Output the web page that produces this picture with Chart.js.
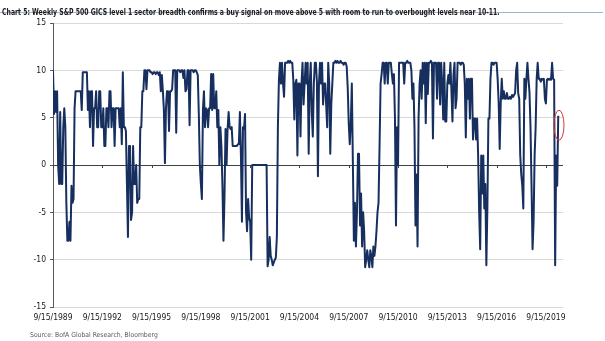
<!DOCTYPE html>
<html>
<head>
<meta charset="utf-8">
<script src="https://cdn.jsdelivr.net/npm/chart.js@4.4.1/dist/chart.umd.min.js"></script>
<style>
  html, body { margin: 0; padding: 0; background: #fff; }
  #wrap { position: relative; width: 605px; height: 341px; overflow: hidden; }
  #chart { position: absolute; left: 0; top: 0; }
  #title {
    position: absolute; left: 0; top: 1px; width: 603px; height: 11px;
    border-bottom: 1px solid #9fb4cc;
  }
  #title span {
    display: inline-block; margin-left: 2px;
    font: bold 8.2px 'Liberation Sans Narrow', 'DejaVu Sans Condensed', 'Liberation Sans', sans-serif;
    color: #1a1a1a; white-space: nowrap;
    transform: scaleX(0.835); transform-origin: 0 0;
  }
  #source {
    position: absolute; left: 30px; top: 331px;
    font: 6.8px 'Liberation Sans Narrow', 'DejaVu Sans Condensed', 'Liberation Sans', sans-serif;
    color: #595959; white-space: nowrap;
  }
</style>
</head>
<body>
<div id="wrap">
  <canvas id="chart" width="605" height="341"></canvas>
  <div id="title"><span>Chart 5: Weekly S&amp;P 500 GICS level 1 sector breadth confirms a buy signal on move above 5 with room to run to overbought levels near 10-11.</span></div>
  <div id="source">Source: BofA Global Research, Bloomberg</div>
</div>
<script>
// Sector breadth readings, one every 1/16 year from 9/15/1989
const startYear = 1989 + 257 / 365;
const step = 1 / 16;

const breadth1989 = [
  10, 5.4, 7.8, 5.6, 7.8, 0, -2, 5.6, -2, -2,
  4, 6, 4, -4, -8, -8, -6, -8, -2.2, -4,
  -3.6, 6, 7.8, 7.8, 7.8, 7.8, 7.8, 7.8, 5.8, 9.8,
  9.8, 9.8, 9.8, 9.8, 5.8, 7.8, 4, 7.8, 7.8, 2,
  6, 6, 7.8, 4, 4, 7.8, 7.8, 4];
const breadth1992 = [
  4, 6, 2, 2, 6, 6, 4, 7.8, 7.8, 4,
  6, 6, 2, 6, 6, 6, 6, 4, 6, 2.2,
  9.8, 4, 4, 3.6, -2, -7.6, 2, 2, -5.8, -5,
  2, -2, -2, 0, -4, -3.6, -3.6, 4, 4, 7.8,
  7.8, 10, 10, 8, 10, 10, 10, 9.8];
const breadth1995 = [
  9.8, 9.6, 9.8, 9.8, 9.6, 9.8, 9.8, 9.5, 9.8, 7.8,
  9.5, 7.8, 5.8, 0.2, 6, 7.8, 7.8, 3.6, 7.8, 7.8,
  8, 10, 10, 10, 3.4, 10, 10, 10, 9.8, 10,
  10, 9.2, 10, 7.8, 8, 10, 10, 4.2, 10, 10,
  10, 9.8, 10, 10, 9.8, 9.5, 5.4, 0];
const breadth1998 = [
  -2, -3.6, 5.8, 7.8, 4, 6, 5.8, 4, 6, 6,
  9.6, 5.8, 9.6, 6, 6, 7.8, 4, 5.8, 0, 4,
  2, -2.2, -8, -3.4, 3.8, 0, 3.8, 5.6, 4, 3.8,
  4, 2, 2, 2, 2, 2, 2.2, 2.2, 5.6, 1,
  -6, 4, 3.8, 5.4, -5, -7, -3.6, -5.6];
const breadth2001 = [
  -6, -10, 0, 0, 0, 0, 0, 0, 0, 0,
  0, 0, 0, 0, 0, 0, 0, -10.7, -10, -7.6,
  -9.6, -10, -10.6, -10.3, -10, -9.8, -7.6, 4, 9, 10.8,
  8.6, 10.8, 8.6, 7.2, 10.8, 10.8, 10.8, 11, 10.8, 11,
  10.8, 10.8, 9, 4.8, 8.6, 9, 1, 8.6];
const breadth2004 = [
  8.6, 3, 8.6, 10.8, 6.4, 8.6, 10.8, 8.6, 10.8, 1.2,
  8.6, 10.8, 5.6, 3, 8.6, 10.8, 10.8, 8.8, -1.2, 8.6,
  10.8, 8.6, 10.8, 6.4, 8.6, 8.6, 6.4, 4, 10.8, 8.6,
  1.2, 6.4, 8.6, 10.8, 10.8, 11, 10.8, 11, 10.8, 10.8,
  11, 10.8, 10.8, 10.6, 10.8, 10.8, 10.4, 8.2];
const breadth2007 = [
  4.4, 2.2, 4.4, 8.6, 0.4, -8, -4, -8.6, -5, 1.2,
  1.2, -6.4, -3, -8.6, -5, -7, -10.8, -10, -9, -10,
  -10.8, -9, -9.6, -10.8, -8.6, -9.6, -8.6, -7, -5, -4,
  2, 8.6, 9.6, 10.8, 10.8, 8.6, 10.8, 10.8, 8.6, 10.8,
  10.8, 10.8, 9.6, 8.6, 9.6, 5, -6.4, 4];
const breadth2010 = [
  0, 10.8, 10.8, 10.8, 10.8, 10.8, 8.6, 10.8, 10.8, 11,
  10.8, 10.8, 10.8, 10, 7, 8.6, 4, -6.4, -1, -8.6,
  5, 8.6, 10, 7, 10.8, 8.6, 10.8, 4.4, 10.8, 7.5,
  10.8, 10.8, 11, 10.8, 2.8, 10.8, 10.8, 10.8, 7, 10.8,
  10.8, 6.4, 10.8, 8.6, 4.8, 10.8, 4.6, 4.6];
const breadth2013 = [
  8.6, 9.5, 8.6, 10.8, 7.8, 4.6, 9.5, 10.8, 6, 7,
  10.8, 10.8, 10.8, 10.6, 10.8, 10.8, 10.6, 8.6, 2.9, 9.1,
  7, 9.1, 4.9, 9.1, 9.1, 2.7, 4.9, 4.9, 2.7, 4.9,
  1, -5, -8.9, 1, -3, 1, -4.6, -2, -10.6, -4.6,
  4.9, 4.9, 9.1, 10.8, 10.8, 10.6, 10.8, 10.8];
const breadth2016 = [
  10.8, 9.1, 6.6, 1.7, 6.6, 9.1, 7, 7.8, 7, 7,
  7.6, 7, 7, 7.2, 7, 7.4, 7.2, 7.4, 7.6, 10,
  10.8, 7.6, 7, 1, -1, -2.2, -4.6, 9.1, 7, 9.1,
  10.8, 9.1, 7.7, 4, -2.2, -8.9, -6, 1, 4, 9.1,
  10.8, 9.1, 9.1, 8.8, 9.1, 9, 9.1, 7];
const breadth2019 = [6.5, 9, 9.1, 9, 9.1, 9, 10.8, 9.1, 9, -10.6, 1, -2.2, 5.2];

const tickYears = [1989, 1992, 1995, 1998, 2001, 2004, 2007, 2010, 2013, 2016, 2019];
const yTicks = [15, 10, 5, 0, -5, -10, -15];

// latest reading circled on the chart
const circledReading = { x: 2020.5, y: 4.2 };

const LABEL_FONT = "'Liberation Sans Narrow', 'DejaVu Sans Condensed', 'Liberation Sans', sans-serif";

const series = [].concat(breadth1989, breadth1992, breadth1995, breadth1998, breadth2001,
  breadth2004, breadth2007, breadth2010, breadth2013, breadth2016, breadth2019);
const points = series.map((v, i) => ({ x: startYear + i * step, y: v }));

// little tick marks hanging under the zero line at each date label
const zeroLineTicks = {
  id: 'zeroLineTicks',
  beforeDatasetsDraw(chart) {
    const { ctx, scales: { x, y } } = chart;
    const y0 = Math.round(y.getPixelForValue(0));
    ctx.save();
    ctx.strokeStyle = '#404040';
    ctx.lineWidth = 1;
    ctx.beginPath();
    x.ticks.forEach(t => {
      const px = Math.round(x.getPixelForValue(t.value)) + 0.5;
      ctx.moveTo(px, y0);
      ctx.lineTo(px, y0 + 3);
    });
    ctx.stroke();
    ctx.restore();
  }
};

// red ring around the latest reading
const circleMark = {
  id: 'circleMark',
  afterDatasetsDraw(chart) {
    const { ctx, scales: { x, y } } = chart;
    ctx.save();
    ctx.strokeStyle = '#d9363a';
    ctx.lineWidth = 1;
    ctx.beginPath();
    ctx.ellipse(x.getPixelForValue(circledReading.x), y.getPixelForValue(circledReading.y), 5, 15, 0, 0, Math.PI * 2);
    ctx.stroke();
    ctx.restore();
  }
};

new Chart(document.getElementById('chart'), {
  type: 'line',
  data: {
    datasets: [{
      data: points,
      borderColor: '#172f5f',
      borderWidth: 2,
      borderJoinStyle: 'round',
      pointRadius: 0,
      tension: 0,
      fill: false
    }]
  },
  options: {
    responsive: false,
    animation: false,
    devicePixelRatio: 1,
    layout: { padding: { top: 23, right: 42, bottom: 0, left: 0 } },
    plugins: { legend: { display: false }, tooltip: { enabled: false } },
    scales: {
      x: {
        type: 'linear',
        min: startYear,
        max: startYear + 31.04,
        afterBuildTicks: s => { s.ticks = tickYears.map(yr => ({ value: startYear + (yr - 1989) })); },
        afterFit: s => { s.height = 34; },
        ticks: {
          callback: v => '9/15/' + Math.round(v - startYear + 1989),
          font: { family: LABEL_FONT, size: 8.5 },
          color: '#1a1a1a',
          padding: 6,
          maxRotation: 0,
          autoSkip: false
        },
        grid: { display: false, drawTicks: false },
        border: { display: false }
      },
      y: {
        min: -15,
        max: 15,
        afterBuildTicks: s => { s.ticks = yTicks.map(v => ({ value: v })); },
        afterFit: s => { s.width = 53; },
        ticks: {
          font: { family: LABEL_FONT, size: 8.5 },
          color: '#1a1a1a',
          padding: 4
        },
        grid: {
          color: c => (c.tick && c.tick.value === 0 ? '#404040' : '#d9d9d9'),
          tickColor: '#595959',
          tickLength: 3,
          lineWidth: 1
        },
        border: { color: '#595959', width: 1 }
      }
    }
  },
  plugins: [zeroLineTicks, circleMark]
});
</script>
</body>
</html>
